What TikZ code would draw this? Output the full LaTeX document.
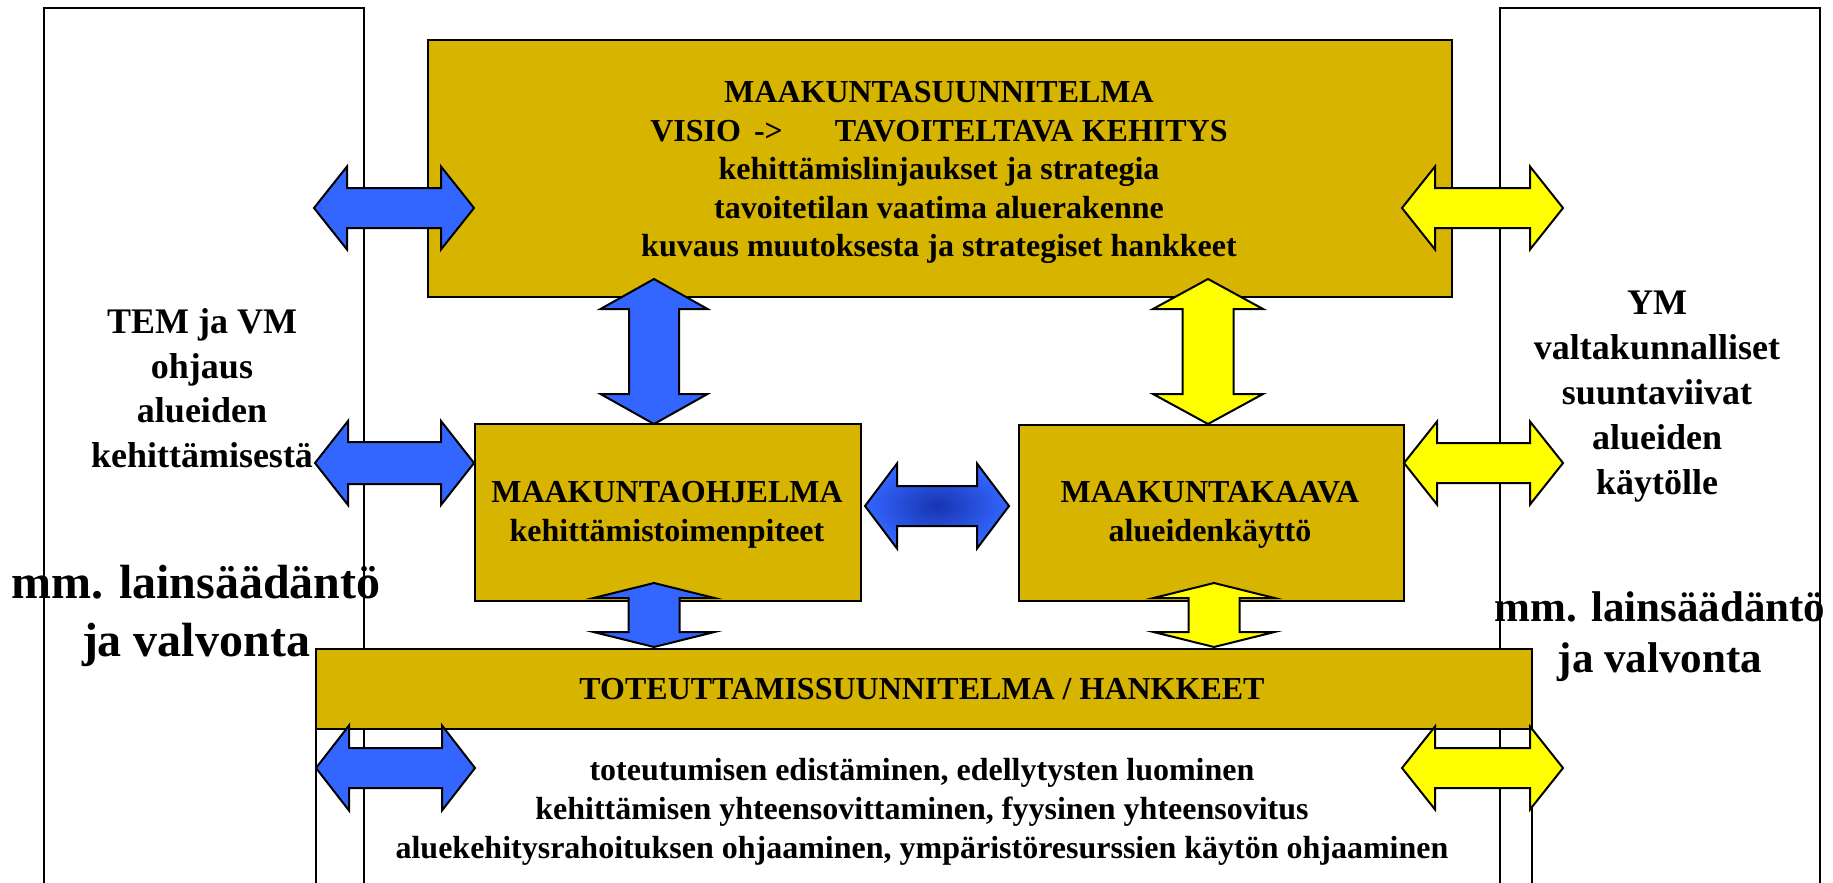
\documentclass[tikz,border=0pt]{standalone}
\usepackage{fontspec}
\setmainfont{Liberation Serif}
\definecolor{gold}{RGB}{214,180,0}
\definecolor{arrblue}{RGB}{51,102,255}
\definecolor{arryellow}{RGB}{255,255,0}
\definecolor{deepblue}{RGB}{24,52,176}
% horizontal double block arrow: style, x left tip, x right tip, y centre, head length, head half height, shaft half height
\newcommand\HDA[7]{%
  \draw[#1] (#2,#4) -- ({#2+#5},{#4-#6}) -- ({#2+#5},{#4-#7}) -- ({#3-#5},{#4-#7}) -- ({#3-#5},{#4-#6}) -- (#3,#4)
    -- ({#3-#5},{#4+#6}) -- ({#3-#5},{#4+#7}) -- ({#2+#5},{#4+#7}) -- ({#2+#5},{#4+#6}) -- cycle;}
% vertical double block arrow: style, y top tip, y bottom tip, x centre, head length, head half width, shaft half width
\newcommand\VDA[7]{%
  \draw[#1] (#4,#2) -- ({#4+#6},{#2+#5}) -- ({#4+#7},{#2+#5}) -- ({#4+#7},{#3-#5}) -- ({#4+#6},{#3-#5}) -- (#4,#3)
    -- ({#4-#6},{#3-#5}) -- ({#4-#7},{#3-#5}) -- ({#4-#7},{#2+#5}) -- ({#4-#6},{#2+#5}) -- cycle;}
\tikzset{
  plainbox/.style={draw=black, line width=2pt, inner sep=0pt, anchor=north west},
  goldbox/.style={plainbox, fill=gold},
  bluearr/.style={draw=black, fill=arrblue, line width=2pt},
  yelarr/.style={draw=black, fill=arryellow, line width=2pt},
  gradarr/.style={draw=black, line width=2pt, inner color=deepblue, outer color=arrblue},
  boxtext/.style={inner sep=0pt, align=center, font=\fontsize{32}{38.5}\selectfont\bfseries},
  sidetext/.style={inner sep=0pt, align=center, font=\fontsize{36}{44.5}\selectfont\bfseries},
}
\begin{document}
\begin{tikzpicture}[x=1pt, y=-1pt]
\fill[white] (0,0) rectangle (1833,883);
\useasboundingbox (0,0) rectangle (1833,883);

% side boxes and the open box below the bar
\node[plainbox, minimum width=320pt, minimum height=900pt] (lbox) at (43,7) {};
\node[plainbox, minimum width=320pt, minimum height=900pt] (rbox) at (1499,7) {};
\node[plainbox, minimum width=1216pt, minimum height=200pt] (lowbox) at (315,728) {};

% gold boxes
\node[goldbox, minimum width=1024pt, minimum height=257pt] (top) at (427,39) {};
\node[goldbox, minimum width=386pt, minimum height=177pt] (ohj) at (474,423) {};
\node[goldbox, minimum width=385pt, minimum height=176pt] (kaava) at (1018,424) {};
\node[goldbox, minimum width=1216pt, minimum height=80pt] (bar) at (315,648) {};

% left blue arrows
\HDA{bluearr}{314}{474}{208}{33}{41.5}{20}
\HDA{bluearr}{315}{474}{463}{33}{42}{21}
\HDA{bluearr}{316}{475}{768}{33}{42.5}{20}
% right yellow arrows
\HDA{yelarr}{1402}{1563}{208}{33}{41.5}{20}
\HDA{yelarr}{1404}{1563}{463}{33}{41.5}{20}
\HDA{yelarr}{1402}{1563}{768}{33}{41.5}{20}
% middle arrow between the two boxes
\HDA{gradarr}{865}{1009}{506}{32}{42.5}{20}
% vertical arrows
\VDA{bluearr}{279}{424}{654}{30}{53.5}{25}
\VDA{yelarr}{279}{424}{1208}{30}{55}{25.5}
\VDA{bluearr}{583}{647}{654}{15}{60.5}{25.5}
\VDA{yelarr}{583}{647}{1214}{15}{60.5}{25.5}

% texts
\node[boxtext] (toptxt) at (939,172.5) {MAAKUNTASUUNNITELMA\\VISIO\hspace{13pt}->\hspace{52pt}TAVOITELTAVA KEHITYS\\kehittämislinjaukset ja strategia\\tavoitetilan vaatima aluerakenne\\kuvaus muutoksesta ja strategiset hankkeet};
\node[boxtext] (ohjtxt) at (667,515) {MAAKUNTAOHJELMA\\kehittämistoimenpiteet};
\node[boxtext] (kaavatxt) at (1210,515) {MAAKUNTAKAAVA\\alueidenkäyttö};
\node[boxtext] (bartxt) at (922,689) {TOTEUTTAMISSUUNNITELMA / HANKKEET};
\node[boxtext, font=\fontsize{32}{39}\selectfont\bfseries] (lowtxt) at (922,812) {toteutumisen edistäminen, edellytysten luominen\\kehittämisen yhteensovittaminen, fyysinen yhteensovitus\\aluekehitysrahoituksen ohjaaminen, ympäristöresurssien käytön ohjaaminen};
\node[sidetext] (ltxt) at (202,388) {TEM ja VM\\ohjaus\\alueiden\\kehittämisestä};
\node[sidetext, font=\fontsize{36}{45}\selectfont\bfseries] (rtxt) at (1657,397) {YM\\valtakunnalliset\\suuntaviivat\\alueiden\\käytölle};
\node[sidetext, font=\fontsize{48}{58}\selectfont\bfseries] (llaw) at (196,616) {mm. lainsäädäntö\\ja valvonta};
\node[sidetext, font=\fontsize{43}{51}\selectfont\bfseries] (rlaw) at (1660,637) {mm. lainsäädäntö\\ja valvonta};
\end{tikzpicture}
\end{document}
